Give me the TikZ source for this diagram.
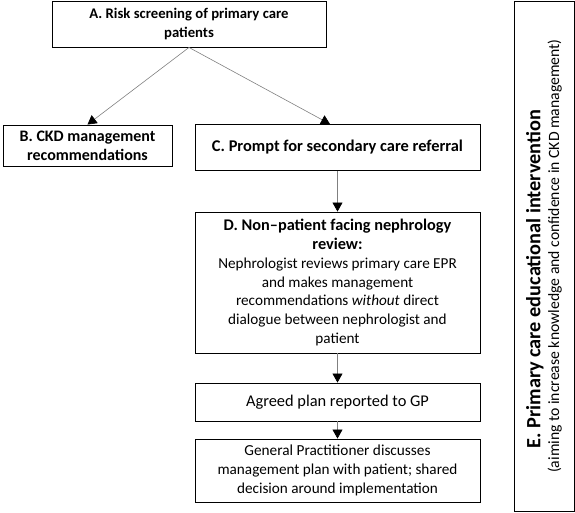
\documentclass[tikz,border=0pt]{standalone}
\usepackage{fontspec}
\setmainfont{Carlito}
\usetikzlibrary{arrows.meta,calc}
\newcommand{\fsz}[1]{\fontsize{#1}{18.7}\selectfont}

\begin{document}
\begin{tikzpicture}[x=1pt,y=-1pt,
	font=\fsz{15.2},
	stepbox/.style={draw=black,line width=0.9pt,align=center,inner sep=0pt},
	flow/.style={draw=gray,line width=0.6pt,-{Triangle[width=10pt,length=9pt,color=black]}}]
 	 \useasboundingbox (0,0) rectangle (575,512);
 	 % boxes of the pathway
	\node [stepbox,minimum width=274pt,minimum height=46pt] (screen) at (189,24)
		{\fsz{14.7}\bfseries A. Risk screening of primary care\\ \fsz{14.7}\bfseries patients};
	\node [stepbox,minimum width=169pt,minimum height=41pt] (ckd) at (87.5,145.5)
		{\fsz{16}\bfseries B. CKD management\\ \fsz{16}\bfseries recommendations};
	\node [stepbox,minimum width=285pt,minimum height=46pt] (prompt) at (337.5,147.5)
		{\fsz{16.4}\bfseries C. Prompt for secondary care referral};
	\node [stepbox,minimum width=285pt,minimum height=141pt] (review) at (337.5,282.5)
		{\fsz{16.3}\bfseries D. Non--patient facing nephrology\\ \fsz{16.3}\bfseries review:\\
		Nephrologist reviews primary care EPR\\ and makes management\\
		recommendations \emph{without} direct\\ dialogue between nephrologist and\\ patient};
	\node [stepbox,minimum width=285pt,minimum height=38pt] (plan) at (337.5,402)
		{\fsz{16.4}Agreed plan reported to GP};
	\node [stepbox,minimum width=285pt,minimum height=63pt] (gp) at (337.5,470.5)
		{\fontsize{15.3}{18.3}\selectfont General Practitioner discusses\\
		management plan with patient; shared\\ decision around implementation};
	% side box, text turned upwards
	\node [stepbox,rotate=90,minimum width=510pt,minimum height=60pt] (edu) at (544,256)
		{\fontsize{20.3}{19}\selectfont\bfseries E. Primary care educational intervention\hspace*{46pt}\\
		\fontsize{15.7}{19}\selectfont (aiming to increase knowledge and confidence in CKD management)};
	% connectors
	\draw [flow] (screen.south) -- (ckd.north);
	\draw [flow] (screen.south) -- ([xshift=-7.5pt]prompt.north);
	\draw [flow] (prompt) -- (review);
	\draw [flow] (review) -- (plan);
	\draw [flow] (plan) -- (gp);
\end{tikzpicture}
\end{document}
